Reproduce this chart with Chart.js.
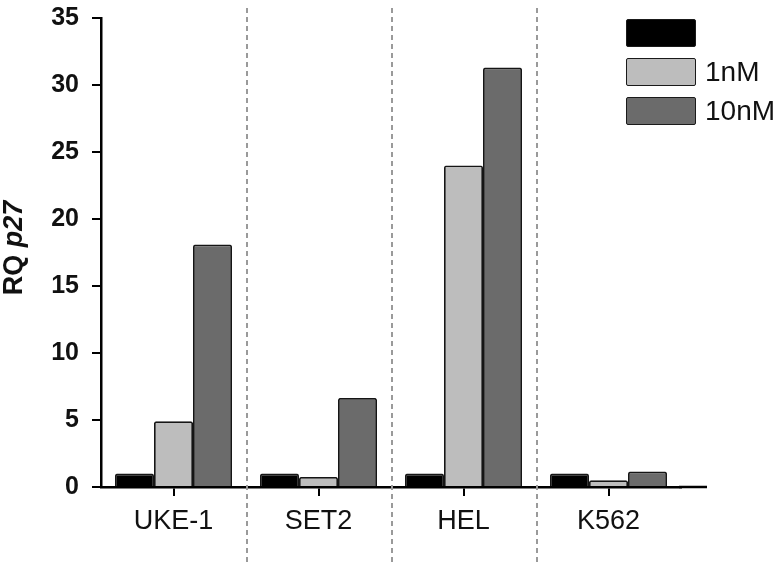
<!DOCTYPE html>
<html>
<head>
<meta charset="utf-8">
<script src="https://cdn.jsdelivr.net/npm/chart.js@4.4.1/dist/chart.umd.min.js"></script>
<style>
  html, body { margin: 0; padding: 0; background: #fff; }
  #wrap { position: relative; width: 783px; height: 564px; }
  #legend { position: absolute; left: 626px; top: 19px; font-family: "Liberation Sans", Arial, sans-serif; }
  .item { display: flex; align-items: center; height: 28px; margin-bottom: 11px; }
  .swatch { width: 68px; height: 26px; border: 1.5px solid #1a1a1a; border-radius: 2px; box-sizing: content-box; }
  .item span { margin-left: 9px; font-size: 28px; color: #111; line-height: 28px; }
</style>
</head>
<body>
<div id="wrap">
  <canvas id="chart" width="783" height="564"></canvas>
  <div id="legend"></div>
</div>
<script>
const categories = ["UKE-1", "SET2", "HEL", "K562"];
const seriesLabels = ["", "1nM", "10nM"];
const controlValues = [1, 1, 1, 1];
const oneNmValues = [4.9, 0.75, 24.0, 0.5];
const tenNmValues = [18.1, 6.65, 31.3, 1.15];
const yTicks = [0, 5, 10, 15, 20, 25, 30, 35];

const colors = ["#000000", "#bdbdbd", "#6b6b6b"];
const font = '"Liberation Sans", Arial, sans-serif';

const datasets = [controlValues, oneNmValues, tenNmValues].map((values, i) => ({
  label: seriesLabels[i],
  data: values,
  backgroundColor: colors[i],
  borderColor: "#151515",
  borderWidth: 1.8,
  borderRadius: 2,
  borderSkipped: "bottom",
  categoryPercentage: 0.807,
  barPercentage: 1.0,
}));

// dashed separators between groups + axis extension + y title
const decorations = {
  id: "decorations",
  beforeDatasetsDraw(chart) {
    const { ctx, scales } = chart;
    const x = scales.x;
    ctx.save();
    ctx.strokeStyle = "#9a9a9a";
    ctx.lineWidth = 2;
    ctx.setLineDash([5, 4]);
    for (let i = 0; i < categories.length - 1; i++) {
      const px = Math.round((x.getPixelForValue(i) + x.getPixelForValue(i + 1)) / 2) + 1;
      ctx.beginPath();
      ctx.moveTo(px, 8);
      ctx.lineTo(px, chart.height);
      ctx.stroke();
    }
    ctx.restore();
  },
  afterDraw(chart) {
    const { ctx, chartArea } = chart;
    ctx.save();
    ctx.strokeStyle = "#000";
    ctx.lineWidth = 2.5;
    ctx.beginPath();
    ctx.moveTo(chartArea.right - 2, chartArea.bottom);
    ctx.lineTo(chartArea.right + 26, chartArea.bottom);
    ctx.stroke();

    ctx.translate(15, 248);
    ctx.rotate(-Math.PI / 2);
    ctx.fillStyle = "#111";
    ctx.textBaseline = "middle";
    const a = "RQ ";
    ctx.font = `bold 27px ${font}`;
    const wa = ctx.measureText(a).width;
    ctx.font = `italic bold 27px ${font}`;
    const wb = ctx.measureText("p27").width;
    const start = -(wa + wb) / 2;
    ctx.font = `bold 27px ${font}`;
    ctx.fillText(a, start, 0);
    ctx.font = `italic bold 27px ${font}`;
    ctx.fillText("p27", start + wa, 0);
    ctx.restore();
  },
};

new Chart(document.getElementById("chart"), {
  type: "bar",
  data: { labels: categories, datasets },
  options: {
    responsive: false,
    animation: false,
    layout: { padding: { top: 18, right: 102, left: 0, bottom: 0 } },
    plugins: {
      legend: { display: false },
      tooltip: { enabled: false },
    },
    scales: {
      x: {
        afterFit: (scale) => { scale.height = 77; scale.paddingLeft = 0; scale.paddingRight = 0; },
        border: { display: true, color: "#000", width: 2.5 },
        grid: { display: true, drawOnChartArea: false, drawTicks: true, tickLength: 9, offset: false, color: "#000", lineWidth: 2 },
        ticks: { color: "#111", padding: 9, font: { family: font, size: 27 } },
      },
      y: {
        min: 0,
        max: 35,
        afterFit: (scale) => { scale.width = 101; scale.paddingTop = 0; scale.paddingBottom = 0; },
        afterBuildTicks: (scale) => { scale.ticks = yTicks.map((v) => ({ value: v })); },
        border: { display: true, color: "#000", width: 2.5 },
        grid: { display: true, drawOnChartArea: false, drawTicks: true, tickLength: 9, color: "#000", lineWidth: 2 },
        ticks: { color: "#111", padding: 13, font: { family: font, size: 25, weight: "bold" } },
      },
    },
  },
  plugins: [decorations],
});

document.getElementById("legend").innerHTML = seriesLabels
  .map((label, i) => `
    <div class="item">
      <div class="swatch" style="background:${colors[i]}"></div>
      <span>${label}</span>
    </div>`)
  .join("");
</script>
</body>
</html>
